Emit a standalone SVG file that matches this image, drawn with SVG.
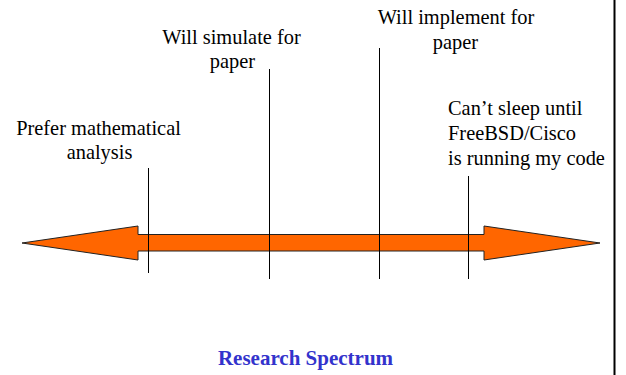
<svg xmlns="http://www.w3.org/2000/svg" width="626" height="375" viewBox="0 0 626 375">
<style>
.lbl{font-family:"Liberation Serif","Times New Roman",serif;font-size:20.4px;fill:#000}
.c{text-anchor:middle}
.tick{stroke:#000;stroke-width:1;fill:none}
.title{font-family:"Liberation Serif","Times New Roman",serif;font-size:21px;font-weight:bold;fill:#3333CC;text-anchor:middle}
</style>
<rect width="626" height="375" fill="#fff"/>
<line x1="614.5" y1="0" x2="614.5" y2="375" stroke="#000" stroke-width="2"/>
<g id="spectrum-arrow">
<polygon points="22,243 138,226 138,234.5 484,234.5 484,226 600,243 484,260 484,251 138,251 138,260" fill="#FF6600" stroke="#222" stroke-width="1"/>
</g>
<g id="connectors">
<line class="tick" x1="148.5" y1="168" x2="148.5" y2="273"/>
<line class="tick" x1="269.5" y1="69" x2="269.5" y2="279"/>
<line class="tick" x1="379.5" y1="48" x2="379.5" y2="279"/>
<line class="tick" x1="468.5" y1="176" x2="468.5" y2="279"/>
</g>
<g id="math">
<text class="lbl c" x="98.5" y="134.5">Prefer mathematical</text>
<text class="lbl c" x="99.5" y="159.3">analysis</text>
</g>
<g id="simulate">
<text class="lbl c" x="231.5" y="43.5">Will simulate for</text>
<text class="lbl c" x="232.5" y="67.5">paper</text>
</g>
<g id="implement">
<text class="lbl c" x="456" y="24">Will implement for</text>
<text class="lbl c" x="455.5" y="48.5">paper</text>
</g>
<g id="cisco">
<text class="lbl" x="448" y="114.5">Can’t sleep until</text>
<text class="lbl" x="448" y="140">FreeBSD/Cisco</text>
<text class="lbl" x="448" y="165">is running my code</text>
</g>
<g id="caption">
<text class="title" x="305.5" y="365">Research Spectrum</text>
</g>
</svg>
